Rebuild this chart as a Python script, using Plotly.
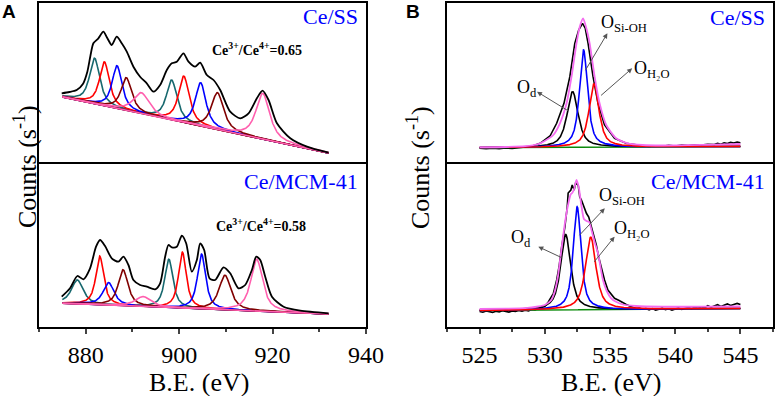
import numpy as np
import plotly.graph_objects as go

# ---------------- Panel A : Ce 3d (B.E. in eV, counts arbitrary) ----------------
A_range = [870, 940]
A_data_span = [875.0, 932.0]
A_top_base = [67.0, 11.0]      # linear background at start / end
A_bot_base = [23.7, 13.0]

A_colors = ["#17686e", "#ff0000", "#0000ff", "#800000", "#ff5fae"]
A_top_centers = [[881.9, 898.4], [884.0, 901.0], [886.7, 904.6], [888.7, 908.2], [891.9, 917.9]]
A_top_heights = [[45.6, 40.0], [44.0, 46.5], [42.8, 43.4], [32.8, 37.0], [21.0, 45.8]]
A_top_fwhm = [[2.6, 2.7], [2.5, 2.7], [2.5, 2.7], [2.7, 3.1], [4.0, 3.5]]

A_bot_centers = [[878.2, 897.8], [883.0, 900.7], [884.9, 904.8], [888.0, 909.8], [892.3, 916.6]]
A_bot_heights = [[24.0, 48.5], [48.7, 56.0], [22.6, 54.8], [36.0, 34.7], [10.0, 52.0]]
A_bot_fwhm = [[3.0, 2.1], [2.0, 2.0], [2.8, 2.1], [2.5, 3.0], [4.0, 3.0]]

Ak_top_x = [874.86, 876.5, 878.07, 879.4, 880.35, 881.0, 881.64, 882.71, 883.78, 884.64, 885.57, 886.64,
            887.71, 888.79, 890.21, 891.64, 893.07, 894.5, 895.93, 897.36, 898.43, 899.5, 900.92,
            902.0, 903.43, 904.5, 905.93, 907.36, 908.79, 910.93, 913.07, 914.86, 916.64, 917.86,
            919.14, 920.93, 923.79, 927.36, 932.0]
Ak_top_y = [70.7, 72.0, 74.0, 80.0, 92.3, 108.0, 120.7, 125.7, 132.3, 125.7, 119.0, 127.3,
            120.7, 112.3, 97.3, 87.3, 80.7, 72.3, 79.0, 94.0, 100.7, 102.3, 110.7,
            102.3, 97.3, 101.3, 89.0, 84.0, 74.0, 52.3, 45.7, 50.7, 65.7, 73.3,
            64.0, 40.7, 25.7, 17.3, 11.3]

Ak_bot_x = [874.86, 876.64, 878.21, 879.5, 880.93, 882.21, 883.07, 884.14, 885.57, 886.99, 888.06,
            889.14, 890.21, 891.64, 893.07, 894.86, 895.93, 897.0, 897.71, 898.43, 899.5, 900.57,
            901.5, 902.71, 903.79, 904.5, 905.36, 906.5, 907.71, 909.5, 910.93, 912.71, 914.14,
            915.57, 916.5, 917.36, 918.43, 919.86, 922.36, 925.93, 932.0]
Ak_bot_y = [30.3, 38.7, 51.0, 47.7, 58.7, 80.3, 87.0, 81.0, 68.7, 65.3, 70.3,
            62.0, 47.0, 42.0, 40.3, 37.7, 43.7, 70.3, 82.0, 79.7, 80.3, 91.3,
            83.7, 55.3, 67.0, 83.7, 77.0, 48.7, 47.0, 59.7, 53.7, 38.7, 42.0,
            57.0, 70.3, 67.0, 50.3, 30.3, 20.3, 16.3, 13.7]

A_ratio_top = "0.65"
A_ratio_bot = "0.58"

# ---------------- Panel B : O 1s ----------------
B_range = [522.5, 547.5]
B_data_span = [525.0, 545.0]
B_colors = ["#000000", "#0000ff", "#ff0000"]          # O_d, O_Si-OH, O_H2O
B_top_base = [16.3, 17.5]
B_top_centers = [532.13, 532.97, 533.77]
B_top_heights = [55.7, 97.4, 63.3]
B_top_fwhm = [1.01, 0.74, 0.91]

B_bot_base = [16.5, 18.5]
B_bot_centers = [531.60, 532.48, 533.52]
B_bot_heights = [75.4, 103.0, 72.5]
B_bot_fwhm = [0.91, 0.71, 0.96]

# fitted envelope (pink)
Bp_top_x = [525, 527, 528.5, 529.5, 529.89, 530.65, 531.16, 531.67, 532.05, 532.43, 532.68, 532.94,
            533.2, 533.44, 533.82, 534.2, 534.71, 535.47, 536.36, 537.5, 539, 541, 543, 545]
Bp_top_y = [16.7, 17.0, 17.8, 20.0, 22.3, 29.0, 40.7, 60.7, 87.3, 120.7, 137.3, 145.7,
            135.0, 120.7, 87.3, 60.7, 39.0, 25.7, 20.7, 19.0, 18.5, 18.8, 19.3, 20.0]

Bp_bot_x = [525, 527, 528.5, 529.5, 530, 530.5, 530.75, 531.0, 531.25, 531.5, 531.75, 532.0, 532.1,
            532.25, 532.43, 532.6, 532.8, 533.0, 533.2, 533.4, 533.6, 533.8, 534.08, 534.46, 534.75,
            535.09, 535.5, 536, 537, 539, 542, 545]
Bp_bot_y = [18.0, 18.3, 18.8, 20.5, 22.0, 27.0, 35.0, 50.0, 75.0, 100.0, 120.0, 133.0, 134.0,
            138.0, 147.0, 140.0, 122.0, 108.0, 106.0, 105.0, 96.0, 86.0, 73.7, 47.0, 36.0,
            28.7, 25.0, 22.5, 21.0, 20.3, 20.3, 20.5]

# raw spectra (black)
Bk_top_x = [525, 525.5, 526, 526.5, 527, 527.5, 528, 528.5, 529, 529.64, 530.4, 530.91, 531.47, 531.92,
            532.3, 532.6, 532.89, 533.1, 533.32, 533.7, 534.08, 534.58, 535.35, 536.24, 537, 537.5, 538,
            538.5, 539, 539.5, 540, 540.5, 541, 541.5, 542, 542.5, 543, 543.25, 543.5, 543.75, 544,
            544.25, 544.5, 544.75, 545]
Bk_top_y = [15.7, 15.2, 15.9, 15.4, 16.0, 15.6, 16.3, 16.8, 17.8, 20.7, 28.0, 40.7, 60.7, 87.3,
            120.7, 134.0, 140.7, 136.0, 120.7, 87.3, 60.7, 39.0, 25.7, 20.7, 18.8, 18.2, 17.6,
            18.3, 17.8, 18.6, 18.0, 18.9, 18.4, 19.3, 18.9, 19.8, 19.4, 20.6, 19.8, 21.2, 20.4,
            21.6, 20.9, 22.0, 21.3]

Bk_bot_x = [525.0, 525.25, 525.5, 525.75, 526.0, 526.25, 526.5, 526.75, 527.0, 527.25, 527.5, 527.75,
            528.0, 528.25, 528.5, 528.75, 529.0, 529.25, 529.5, 529.75, 530.0,
            530.28, 530.66, 530.91, 531.09, 531.29, 531.54, 531.72, 531.79, 532.0, 532.1, 532.25,
            532.36, 532.56, 532.68, 532.81, 533.01, 533.19, 533.37, 533.57, 533.77, 533.95, 534.13,
            534.33, 534.58, 534.84, 535.35, 535.7,
            536.0, 536.25, 536.5, 536.75, 537.0, 537.25, 537.5, 537.75, 538.0, 538.25, 538.5, 538.75,
            539.0, 539.25, 539.5, 539.75, 540.0, 540.25, 540.5, 540.75, 541.0, 541.25, 541.5, 541.75,
            542.0, 542.25, 542.5, 542.75, 543.0, 543.25, 543.5, 543.75, 544.0, 544.25, 544.5, 544.75,
            545.0]
Bk_bot_y = [15.5, 14.8, 16.0, 15.2, 14.6, 15.8, 15.0, 16.2, 15.4, 14.9, 16.0, 15.6, 16.5, 15.8,
            16.8, 16.2, 17.5, 17.0, 18.5, 19.2, 20.5,
            25.3, 33.7, 47.0, 60.0, 80.0, 100.0, 120.0, 134.0, 137.0, 142.0, 137.0,
            143.7, 142.0, 130.0, 127.0, 120.0, 113.7, 110.0, 100.0, 90.0, 82.0, 70.0,
            60.0, 47.0, 37.0, 28.7, 26.5,
            24.0, 22.5, 21.0, 20.0, 18.5, 19.2, 17.8, 18.6, 17.2, 18.4, 16.9, 17.8,
            18.9, 17.3, 18.2, 16.8, 18.0, 19.1, 17.6, 18.8, 19.6, 18.3, 19.9, 18.7,
            20.2, 19.0, 21.4, 19.8, 21.0, 22.3, 20.6, 22.0, 23.1, 21.5, 22.8, 23.6, 22.4]

B_pink = "#f46cf0"
B_green = "#0a8a0a"
LABEL_FONT = "Liberation Serif, Times New Roman, serif"

# ---------------- helpers ----------------
W, H = 775, 396


def pv(x, c, h, w, eta=0.8):
    u = (x - c) / w
    return h * (eta / (1 + 4 * u ** 2) + (1 - eta) * np.exp(-4 * np.log(2) * u ** 2))


def linbase(x, span, base):
    return base[0] + (x - span[0]) * (base[1] - base[0]) / (span[1] - span[0])


def px(xp):
    return xp / W


def py(yp):
    return 1 - yp / H


fig = go.Figure()

# Panel A traces
xa = np.linspace(A_data_span[0], A_data_span[1], 1141)
for (centers, heights, fwhm, base, kx, ky, xr, yr) in [
        (A_top_centers, A_top_heights, A_top_fwhm, A_top_base, Ak_top_x, Ak_top_y, "x", "y"),
        (A_bot_centers, A_bot_heights, A_bot_fwhm, A_bot_base, Ak_bot_x, Ak_bot_y, "x2", "y2")]:
    bl = linbase(xa, A_data_span, base)
    for gi, col in enumerate(A_colors):
        for c, h, w in zip(centers[gi], heights[gi], fwhm[gi]):
            fig.add_trace(go.Scatter(x=xa, y=bl + pv(xa, c, h, w), mode="lines", xaxis=xr, yaxis=yr,
                                     line=dict(color=col, width=1.6), showlegend=False,
                                     hoverinfo="skip"))
    fig.add_trace(go.Scatter(x=kx, y=ky, mode="lines", xaxis=xr, yaxis=yr,
                             line=dict(color="black", width=1.8, shape="spline", smoothing=0.7),
                             showlegend=False, hoverinfo="skip"))

# Panel B traces
xb = np.linspace(B_data_span[0], B_data_span[1], 1601)
for (kx, ky, centers, heights, fwhm, base, pxs, pys, xr, yr) in [
        (Bk_top_x, Bk_top_y, B_top_centers, B_top_heights, B_top_fwhm, B_top_base, Bp_top_x, Bp_top_y, "x3", "y3"),
        (Bk_bot_x, Bk_bot_y, B_bot_centers, B_bot_heights, B_bot_fwhm, B_bot_base, Bp_bot_x, Bp_bot_y, "x4", "y4")]:
    bl = linbase(xb, B_data_span, base)
    fig.add_trace(go.Scatter(x=kx, y=ky, mode="lines", xaxis=xr, yaxis=yr,
                             line=dict(color="black", width=1.6), showlegend=False, hoverinfo="skip"))
    fig.add_trace(go.Scatter(x=xb, y=bl, mode="lines", xaxis=xr, yaxis=yr,
                             line=dict(color=B_green, width=1.6), showlegend=False, hoverinfo="skip"))
    for col, c, h, w in zip(B_colors, centers, heights, fwhm):
        fig.add_trace(go.Scatter(x=xb, y=bl + pv(xb, c, h, w, 0.75), mode="lines", xaxis=xr, yaxis=yr,
                                 line=dict(color=col, width=1.6), showlegend=False, hoverinfo="skip"))
    fig.add_trace(go.Scatter(x=pxs, y=pys, mode="lines", xaxis=xr, yaxis=yr,
                             line=dict(color=B_pink, width=1.8, shape="spline", smoothing=0.6),
                             showlegend=False, hoverinfo="skip"))

# ---------------- axes ----------------
A_dom = [px(39), px(366)]
B_dom = [px(447), px(773)]
top_dom = [py(164), py(3)]
bot_dom = [py(327), py(164)]

frame = dict(showline=True, linewidth=1.8, linecolor="black", showgrid=False, zeroline=False)
tick_font = dict(family=LABEL_FONT, size=24, color="black")

fig.update_layout(
    # top panels: only the top edge from the x axis (divider is drawn by the lower panel)
    xaxis=dict(domain=A_dom, range=A_range, anchor="y", side="top", mirror=False,
               showticklabels=False, ticks="", **frame),
    yaxis=dict(domain=top_dom, range=[0, 161], anchor="x", mirror=True,
               showticklabels=False, ticks="", **frame),
    xaxis2=dict(domain=A_dom, range=A_range, anchor="y2", mirror=True, ticks="outside", ticklen=5,
                tickwidth=1.5, tick0=880, dtick=20, tickfont=tick_font,
                minor=dict(ticks="outside", ticklen=3, tickwidth=1.5, dtick=10, tick0=870), **frame),
    yaxis2=dict(domain=bot_dom, range=[0, 163], anchor="x2", mirror=True,
                showticklabels=False, ticks="", **frame),
    xaxis3=dict(domain=B_dom, range=B_range, anchor="y3", side="top", mirror=False,
                showticklabels=False, ticks="", **frame),
    yaxis3=dict(domain=top_dom, range=[0, 161], anchor="x3", mirror=True,
                showticklabels=False, ticks="", **frame),
    xaxis4=dict(domain=B_dom, range=B_range, anchor="y4", mirror=True, ticks="outside", ticklen=5,
                tickwidth=1.5, tick0=525, dtick=5, tickfont=tick_font,
                minor=dict(ticks="outside", ticklen=3, tickwidth=1.5, dtick=2.5, tick0=522.5), **frame),
    yaxis4=dict(domain=bot_dom, range=[0, 163], anchor="x4", mirror=True,
                showticklabels=False, ticks="", **frame),
    autosize=False, width=W, height=H, margin=dict(l=0, r=0, t=0, b=0, autoexpand=False),
    paper_bgcolor="white", plot_bgcolor="white",
)

ann = []


def ptext(text, x, y, size, color="black", family=LABEL_FONT, xanchor="center", angle=0):
    ann.append(dict(text=text, x=px(x), y=py(y), xref="paper", yref="paper", showarrow=False,
                    xanchor=xanchor, yanchor="middle", textangle=angle,
                    font=dict(family=family, size=size, color=color)))


ptext("<b>A</b>", 9, 12, 19, family="Liberation Sans, Arial, sans-serif")
ptext("<b>B</b>", 413, 12, 19, family="Liberation Sans, Arial, sans-serif")
ptext("Counts (s<sup>-1</sup>)", 25, 167, 26, angle=-90)
ptext("Counts (s<sup>-1</sup>)", 418, 167, 26, angle=-90)
ptext("B.E. (eV)", 199, 382, 26)
ptext("B.E. (eV)", 611, 382, 26)
ptext("Ce/SS", 360, 16, 22, color="#0000ff", xanchor="right")
ptext("Ce/MCM-41", 360, 181, 22, color="#0000ff", xanchor="right")
ptext("Ce/SS", 767, 17, 22, color="#0000ff", xanchor="right")
ptext("Ce/MCM-41", 767, 181, 22, color="#0000ff", xanchor="right")
ptext("<b>Ce<sup>3+</sup>/Ce<sup>4+</sup>=" + A_ratio_top + "</b>", 257, 49, 14)
ptext("<b>Ce<sup>3+</sup>/Ce<sup>4+</sup>=" + A_ratio_bot + "</b>", 261, 225, 14)

# O 1s labels (data coords) and arrows: (label, lx, ly, head_x, head_y, tail_x, tail_y)
B_top_labels = [("O<sub>d</sub>", 528.6, 76.0, 529.4, 72.3, 531.9, 52.3),
                ("O<sub>Si-OH</sub>", 536.1, 140.7, 534.8, 130.7, 533.05, 92.3),
                ("O<sub>H₂O</sub>", 538.2, 94.7, 536.7, 95.7, 534.2, 67.3)]
B_bot_labels = [("O<sub>d</sub>", 528.2, 88.7, 529.5, 80.3, 531.4, 68.7),
                ("O<sub>Si-OH</sub>", 535.9, 130.3, 534.6, 118.7, 532.55, 90.3),
                ("O<sub>H₂O</sub>", 536.7, 97.7, 535.35, 90.3, 533.7, 63.7)]
for labels, xr, yr in [(B_top_labels, "x3", "y3"), (B_bot_labels, "x4", "y4")]:
    for t, lx, ly, hx, hy, tx, ty in labels:
        ann.append(dict(text=t, x=lx, y=ly, xref=xr, yref=yr, showarrow=False,
                        font=dict(family=LABEL_FONT, size=18, color="black")))
        ann.append(dict(text="", x=hx, y=hy, ax=tx, ay=ty, xref=xr, yref=yr, axref=xr, ayref=yr,
                        showarrow=True, arrowhead=2, arrowsize=1, arrowwidth=1,
                        arrowcolor="#555555", standoff=0, startstandoff=0))

fig.update_layout(annotations=ann)
page_fix = ("var s=document.createElement('style');"
            "s.textContent='html,body{margin:0;padding:0;overflow:hidden;}';"
            "document.head.appendChild(s);"
            "var gd=document.getElementById('{plot_id}');"
            "Plotly.relayout(gd,{width:775,height:396,autosize:false});")
fig.write_html("out.html", config={"displayModeBar": False, "responsive": False},
               post_script=page_fix)
